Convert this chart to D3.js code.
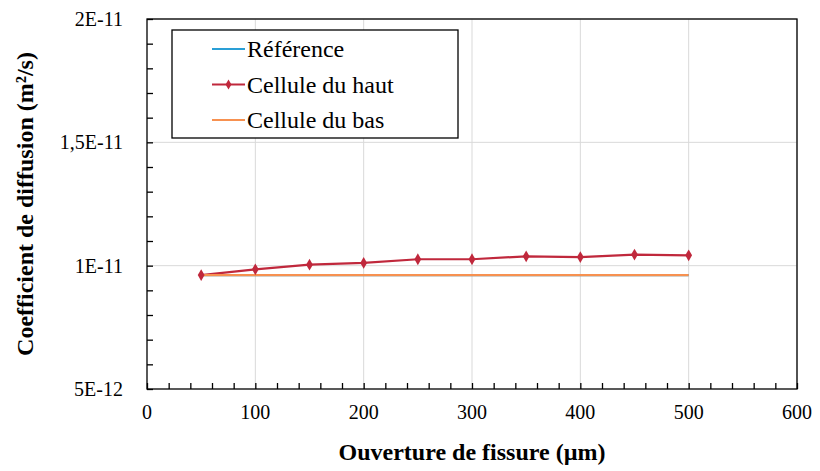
<!DOCTYPE html>
<html><head><meta charset="utf-8">
<script src="https://cdn.jsdelivr.net/npm/d3@7"></script>
<style>body{margin:0;background:#fff;} svg{display:block;} svg text{font-family:"Liberation Serif","Times New Roman",serif !important;}</style>
</head><body>
<svg id="c" width="820" height="471"></svg>
<script>
const xVals = [50,100,150,200,250,300,350,400,450,500];
const haut = [9.62e-12,9.85e-12,1.004e-11,1.011e-11,1.026e-11,1.026e-11,1.038e-11,1.035e-11,1.045e-11,1.042e-11];
const bas = [9.62e-12,9.62e-12,9.62e-12,9.62e-12,9.62e-12,9.62e-12,9.62e-12,9.62e-12,9.62e-12,9.62e-12];
const reference = [9.62e-12,9.62e-12,9.62e-12,9.62e-12,9.62e-12,9.62e-12,9.62e-12,9.62e-12,9.62e-12,9.62e-12];
const xTicks = [0,100,200,300,400,500,600];
const yTicks = [5e-12,1e-11,1.5e-11,2e-11];
const yTickLabels = ["5E-12","1E-11","1,5E-11","2E-11"];
const legendNames = ["Référence","Cellule du haut","Cellule du bas"];

const FONT = "'Liberation Serif', 'Times New Roman', serif";
const svg = d3.select("#c");
const L=147,R=797,T=19,B=389;
const x = d3.scaleLinear().domain([0,600]).range([L,R]);
const y = d3.scaleLinear().domain([5e-12,2e-11]).range([B,T]);

svg.append("g").selectAll("line").data(xTicks.slice(1)).join("line")
  .attr("x1",d=>x(d)).attr("x2",d=>x(d)).attr("y1",T).attr("y2",B)
  .attr("stroke","#d9d9d9").attr("stroke-width",1);
svg.append("g").selectAll("line").data(yTicks.slice(1)).join("line")
  .attr("x1",L).attr("x2",R).attr("y1",d=>y(d)).attr("y2",d=>y(d))
  .attr("stroke","#d9d9d9").attr("stroke-width",1);

svg.append("rect").attr("x",L).attr("y",T).attr("width",R-L).attr("height",B-T)
  .attr("fill","none").attr("stroke","#000").attr("stroke-width",1.3);

const xMinor = d3.range(0,601,20);
const yMinor = d3.range(5,20.01,1).map(v=>v*1e-12);
const xa = svg.append("g").attr("transform",`translate(0,${B})`)
  .call(d3.axisBottom(x).tickValues(xMinor).tickSize(-6).tickFormat(""));
xa.select(".domain").remove();
xa.selectAll("line").attr("stroke","#000").attr("stroke-width",1.3);
xa.selectAll("text").remove();
const ya = svg.append("g").attr("transform",`translate(${L},0)`)
  .call(d3.axisLeft(y).tickValues(yMinor).tickSize(-6).tickFormat(""));
ya.select(".domain").remove();
ya.selectAll("line").attr("stroke","#000").attr("stroke-width",1.3);
ya.selectAll("text").remove();

function txt(sel){ return sel.attr("font-family",FONT).style("font-family",FONT,"important"); }

const lab = svg.append("g");
txt(lab.selectAll("text.xt").data(xTicks).join("text").attr("class","xt")
  .attr("x",d=>x(d)).attr("y",419).attr("text-anchor","middle")
  .attr("font-size",20).text(d=>d));
txt(lab.selectAll("text.yt").data(yTicks).join("text").attr("class","yt")
  .attr("x",123).attr("y",d=>y(d)+7).attr("text-anchor","end")
  .attr("font-size",20).text((d,i)=>yTickLabels[i]));

txt(svg.append("text").attr("x",472).attr("y",460).attr("text-anchor","middle")
  .attr("font-weight","bold").attr("font-size",24)
  .text("Ouverture de fissure (µm)"));
txt(svg.append("text").attr("transform","translate(33,204) rotate(-90)").attr("text-anchor","middle")
  .attr("font-weight","bold").attr("font-size",24)
  .text("Coefficient de diffusion (m²/s)"));

const line = d3.line().x((d,i)=>x(xVals[i])).y(d=>y(d));
const colors = ["#2a9fd6","#c0283c","#f79150"];
svg.append("path").datum(reference).attr("d",line).attr("fill","none").attr("stroke",colors[0]).attr("stroke-width",2.2);
svg.append("path").datum(haut).attr("d",line).attr("fill","none").attr("stroke",colors[1]).attr("stroke-width",2.2);
svg.append("path").datum(bas).attr("d",line).attr("fill","none").attr("stroke",colors[2]).attr("stroke-width",2.2);
const diamond = d3.symbol().type(d3.symbolDiamond).size(40);
svg.append("g").selectAll("path").data(haut).join("path")
  .attr("transform",(d,i)=>`translate(${x(xVals[i])},${y(d)})`).attr("d",diamond).attr("fill",colors[1]);

const lg = svg.append("g");
lg.append("rect").attr("x",172).attr("y",30).attr("width",286).attr("height",108)
  .attr("fill","#fff").attr("stroke","#000").attr("stroke-width",1.3);
legendNames.forEach((n,i)=>{
  const yy = 49 + i*35.5;
  lg.append("line").attr("x1",212).attr("x2",245).attr("y1",yy).attr("y2",yy)
    .attr("stroke",colors[i]).attr("stroke-width",2.2);
  if(i===1) lg.append("path").attr("transform",`translate(228.5,${yy})`).attr("d",d3.symbol().type(d3.symbolDiamond).size(30)).attr("fill",colors[1]);
  txt(lg.append("text").attr("x",247).attr("y",yy+8).attr("font-size",24).text(n));
});
</script>
</body></html>
